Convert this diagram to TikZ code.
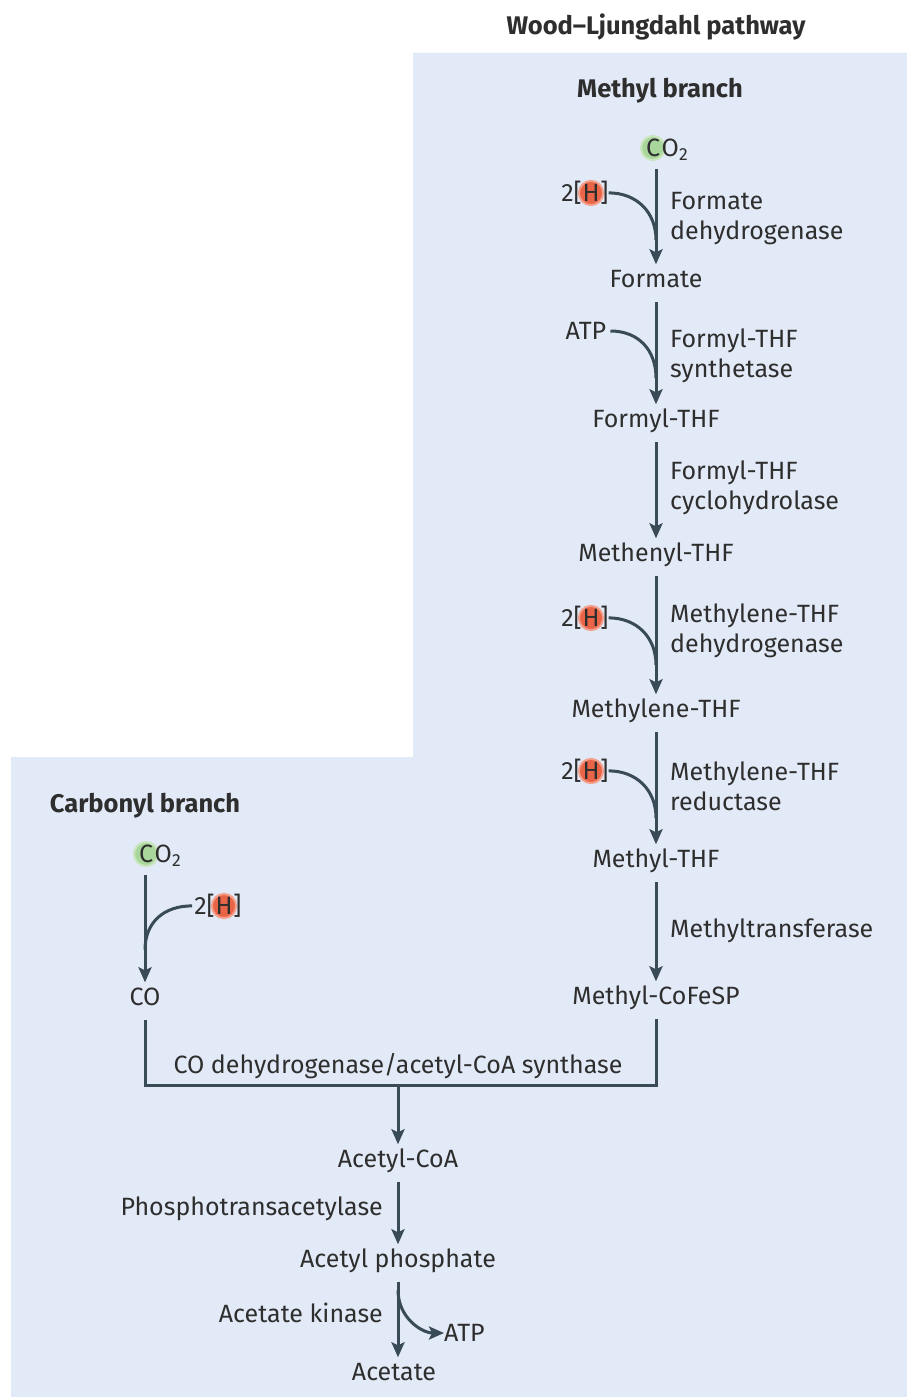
\documentclass[tikz,border=0pt]{standalone}
\usepackage{fontspec}
\setmainfont{Fira Sans}
\usetikzlibrary{arrows.meta,calc}
\definecolor{bgblue}{HTML}{E3EAF7}
\definecolor{txt}{HTML}{2E2E2E}
\definecolor{ln}{HTML}{3A4B58}
\definecolor{gfill}{HTML}{A9D69B}
\definecolor{gring}{HTML}{C9E6BF}
\definecolor{rfill}{HTML}{EA6548}
\definecolor{rring}{HTML}{F3A08C}
\newcommand\hgrp[2]{%
  \node[hcirc] (#1) at (#2) {H};
  \node[anchor=base east, inner sep=0pt, xshift=4pt] (#1l) at (#1.base west) {2[};
  \node[anchor=base west, inner sep=0pt, xshift=-4pt] (#1r) at (#1.base east) {]};
}
\begin{document}
\begin{tikzpicture}[x=1pt,y=-1pt,
  every node/.style={font=\fontsize{25}{30}\selectfont, text=txt},
  met/.style={inner sep=2pt, text height=18pt, text depth=5pt},
  enz/.style={anchor=west, align=left, inner sep=0pt},
  hdr/.style={font=\fontsize{25.5}{30}\selectfont\bfseries},
  ln/.style={draw=ln, line width=3pt},
  arr/.style={ln, -{Stealth[length=15pt,width=13pt,inset=3pt]}, shorten <=7pt, shorten >=3pt},
  side/.style={ln},
  sidearr/.style={ln, -{Stealth[length=15pt,width=13pt,inset=3pt]}},
  gcirc/.style={circle, fill=gfill, draw=gring, line width=2pt, minimum size=24pt, inner sep=0pt},
  hcirc/.style={circle, fill=rfill, draw=rring, line width=2pt, minimum size=24pt, inner sep=0pt}
]
\useasboundingbox (0,0) rectangle (907,1397);
\fill[bgblue] (413,53) -- (907,53) -- (907,1397) -- (11,1397) -- (11,757) -- (413,757) -- cycle;

% headers
\node[hdr] (title) at (656,27) {Wood–Ljungdahl pathway};
\node[hdr] (methylhdr) at (660,91) {Methyl branch};
\node[hdr] (carbhdr) at (145,806) {Carbonyl branch};

% methyl branch metabolites
\node[gcirc] (cm) at (653,148) {C};
\node[met, anchor=base west, inner sep=0pt, xshift=-4.5pt] (co2m) at (cm.base east) {O\textsubscript{2}};
\node[met] (formate) at (656,281) {Formate};
\node[met] (formyl) at (656,421) {Formyl-THF};
\node[met] (methenyl) at (656,555) {Methenyl-THF};
\node[met] (methylene) at (656,711) {Methylene-THF};
\node[met] (methyl) at (656,861) {Methyl-THF};
\node[met] (mcofesp) at (656,998) {Methyl-CoFeSP};

% enzymes (methyl branch)
\node[enz] (e1) at (670,219) {Formate\\dehydrogenase};
\node[enz] (e2) at (670,356) {Formyl-THF\\synthetase};
\node[enz] (e3) at (670,488) {Formyl-THF\\cyclohydrolase};
\node[enz] (e4) at (670,631) {Methylene-THF\\dehydrogenase};
\node[enz] (e5) at (670,786) {Methylene-THF\\reductase};
\node[enz] (e6) at (670,931) {Methyltransferase};

% main arrows
\draw[arr] (formate.north |- co2m.south) -- (formate.north);
\draw[arr] (formate) -- (formyl);
\draw[arr] (formyl) -- (methenyl);
\draw[arr] (methenyl) -- (methylene);
\draw[arr] (methylene) -- (methyl);
\draw[arr] (methyl) -- (mcofesp);

% side inputs
\hgrp{h1}{591,193}
\coordinate (j1) at (656,240);
\draw[side] (h1r.east) .. controls +(28,0) and +(0,-28) .. (j1);
\node[inner sep=0pt] (atp1) at (586,331) {ATP};
\coordinate (j2) at (656,378);
\draw[side] ([xshift=4pt]atp1.east) .. controls +(28,0) and +(0,-28) .. (j2);
\hgrp{h3}{591,618}
\coordinate (j3) at (656,665);
\draw[side] (h3r.east) .. controls +(28,0) and +(0,-28) .. (j3);
\hgrp{h4}{591,771}
\coordinate (j4) at (656,818);
\draw[side] (h4r.east) .. controls +(28,0) and +(0,-28) .. (j4);

% carbonyl branch
\node[gcirc] (cc) at (146,854) {C};
\node[met, anchor=base west, inner sep=0pt, xshift=-4.5pt] (co2c) at (cc.base east) {O\textsubscript{2}};
\node[met] (co) at (145,999) {CO};
\draw[arr] (co.north |- co2c.south) -- (co.north);
\hgrp{h5}{224,906}
\coordinate (j5) at (145,950);
\draw[side] ([xshift=-2pt]h5l.west) .. controls +(-28,0) and +(0,-28) .. (j5);

% merge
\coordinate (m1) at (145,1085);
\coordinate (m2) at (656,1085);
\coordinate (mid) at (398,1085);
\draw[ln, line join=miter] ($(co.south)+(0,7)$) -- (m1) -- (m2) -- ($(m2 |- mcofesp.south)+(0,7)$);
\node (codh) at (398,1066) {CO dehydrogenase/acetyl-CoA synthase};
\node[met] (acoa) at (398,1161) {Acetyl-CoA};
\draw[arr, shorten <=0pt] (mid) -- (acoa.north);
\node[met] (acp) at (398,1261) {Acetyl phosphate};
\draw[arr] (acoa) -- (acp);
\node[anchor=east, inner sep=0pt] (pta) at (383,1209) {Phosphotransacetylase};
\node[met] (acetate) at (394,1374) {Acetate};
\draw[arr] (acp.south -| acoa.south) -- (acoa.south |- acetate.north);
\node[anchor=east, inner sep=0pt] (ack) at (383,1313) {Acetate kinase};
\node[anchor=west, inner sep=0pt] (atp2) at (444,1333) {ATP};
\coordinate (j6) at (398,1290);
\draw[sidearr] (j6) .. controls +(0,28) and +(-22,0) .. (atp2.west);
\end{tikzpicture}
\end{document}
